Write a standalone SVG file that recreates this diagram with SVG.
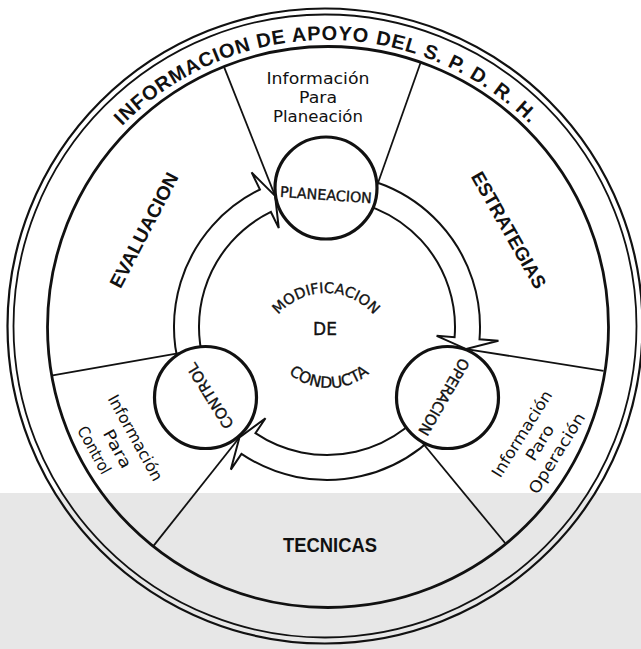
<svg xmlns="http://www.w3.org/2000/svg" width="641" height="649" viewBox="0 0 641 649">
<style>
.ln{fill:none;stroke:#111;}
.b{font-family:"Liberation Sans",Arial,sans-serif;font-weight:bold;fill:#111;}
.band{font-family:"Liberation Sans",Arial,sans-serif;font-weight:bold;fill:#111;font-size:20px;letter-spacing:0.8px;}
.m{font-family:"DejaVu Sans",sans-serif;fill:#111;stroke:#111;stroke-width:0.35;}
.r{font-family:"DejaVu Sans",sans-serif;fill:#111;}
.node{fill:#fff;stroke:#111;stroke-width:3.2;}
.arrow{fill:#fff;stroke:#111;stroke-width:2;stroke-linejoin:miter;}
</style>
<defs>
<path id="bandArc" d="M40,327 A287,287 0 0 1 614,327"/>
<path id="modArc" d="M263,356 A63,63 0 0 1 389,356"/>
<path id="condArc" d="M266,325 A63,63 0 0 0 392,325"/>
</defs>
<rect width="641" height="649" fill="#fff"/>
<rect y="493" width="641" height="156" fill="#e7e7e7"/>
<g id="frame">
<circle cx="325" cy="326" r="317.5" class="ln" stroke-width="2.2"/>
<circle cx="325" cy="326" r="311.5" class="ln" stroke-width="1.8"/>
<circle cx="328" cy="327" r="280.5" class="ln" stroke-width="2.8"/>
<text class="band"><textPath href="#bandArc" startOffset="222.4">INFORM</textPath></text>
<text class="band"><textPath href="#bandArc" startOffset="306.08">ACION</textPath></text>
<text class="band"><textPath href="#bandArc" startOffset="380.88">DE APOYO</textPath></text>
<text class="band"><textPath href="#bandArc" startOffset="499.22">DEL S. P. D. R. H.</textPath></text>
</g>
<g id="connectors">
<path class="arrow" d="M327,174 A153,153 0 0 1 479.51,339.27 L498.45,340.79 L466.26,349.06 L436.65,335.82 L454.59,337.27 A128,128 0 0 0 327,199 Z"/>
<path class="arrow" d="M459.5,403.5 A153,153 0 0 1 241.44,453.84 L230.82,469.6 L239.42,437.5 L265.49,418.19 L255.42,433.12 A128,128 0 0 0 437.85,391 Z"/>
<path class="arrow" d="M194.5,403.5 A153,153 0 0 1 259.93,189.48 L251.6,172.41 L275.1,195.9 L278.78,228.13 L270.89,211.95 A128,128 0 0 0 216.15,391 Z"/>
</g>
<g id="dividers" class="ln" stroke-width="1.8">
<line x1="275.1" y1="195.9" x2="223.93" y2="66.66"/>
<line x1="373.73" y1="195.03" x2="420.47" y2="63.06"/>
<line x1="466.26" y1="349.06" x2="603.55" y2="370.8"/>
<line x1="416.05" y1="435.03" x2="505.1" y2="543.05"/>
<line x1="239.42" y1="437.5" x2="153.08" y2="546.43"/>
<line x1="189.13" y1="351.31" x2="51.25" y2="375.62"/>
</g>
<g id="node-planeacion">
<circle class="node" cx="326" cy="188" r="51"/>
<text class="m" font-size="14.5" x="326" y="200" text-anchor="middle" textLength="92" lengthAdjust="spacingAndGlyphs" transform="rotate(4 326 195)">PLANEACION</text>
</g>
<g id="node-operacion">
<circle class="node" cx="447.5" cy="397.5" r="51"/>
<text class="m" font-size="15" x="444" y="402.5" text-anchor="middle" textLength="86" lengthAdjust="spacingAndGlyphs" transform="rotate(120 444 397)">OPERACION</text>
</g>
<g id="node-control">
<circle class="node" cx="205.5" cy="397.5" r="51"/>
<text class="m" font-size="15" x="210" y="401.5" text-anchor="middle" textLength="74" lengthAdjust="spacingAndGlyphs" transform="rotate(-122 210 396)">CONTROL</text>
</g>
<g id="center-text">
<text class="m" font-size="14.5"><textPath href="#modArc" startOffset="50%" text-anchor="middle">MODIFICACION</textPath></text>
<text class="m" font-size="17" x="325" y="335" text-anchor="middle">DE</text>
<text class="m" font-size="15.5"><textPath href="#condArc" startOffset="50%" text-anchor="middle">CONDUCTA</textPath></text>
</g>
<g id="sector-evaluacion">
<text class="b" font-size="19" x="143.75" y="236.8" text-anchor="middle" textLength="127" lengthAdjust="spacingAndGlyphs" transform="rotate(-62.5 143.75 230)">EVALUACION</text>
</g>
<g id="sector-estrategias">
<text class="b" font-size="19" x="509" y="236.8" text-anchor="middle" textLength="131" lengthAdjust="spacingAndGlyphs" transform="rotate(60.2 509 230)">ESTRATEGIAS</text>
</g>
<g id="sector-tecnicas">
<text class="b" font-size="20" x="330" y="552" text-anchor="middle" textLength="94" lengthAdjust="spacingAndGlyphs">TECNICAS</text>
</g>
<g id="info-planeacion" class="r" font-size="15.5" text-anchor="middle">
<text x="318" y="84" textLength="103" lengthAdjust="spacingAndGlyphs">Información</text>
<text x="318" y="103" textLength="38" lengthAdjust="spacingAndGlyphs">Para</text>
<text x="318" y="122" textLength="90" lengthAdjust="spacingAndGlyphs">Planeación</text>
</g>
<g id="info-control" class="r" font-size="16" text-anchor="middle" transform="translate(117 449) rotate(61)">
<text x="-1" y="-16" textLength="96" lengthAdjust="spacingAndGlyphs">Información</text>
<text x="0" y="5" textLength="42" lengthAdjust="spacingAndGlyphs">Para</text>
<text x="-10" y="26" textLength="52" lengthAdjust="spacingAndGlyphs">Control</text>
</g>
<g id="info-operacion" class="r" font-size="16" text-anchor="middle" transform="translate(542 444) rotate(-58)">
<text x="-2" y="-17" textLength="99" lengthAdjust="spacingAndGlyphs">Información</text>
<text x="0" y="3" textLength="39" lengthAdjust="spacingAndGlyphs">Paro</text>
<text x="0" y="23" textLength="92" lengthAdjust="spacingAndGlyphs">Operación</text>
</g>
</svg>
